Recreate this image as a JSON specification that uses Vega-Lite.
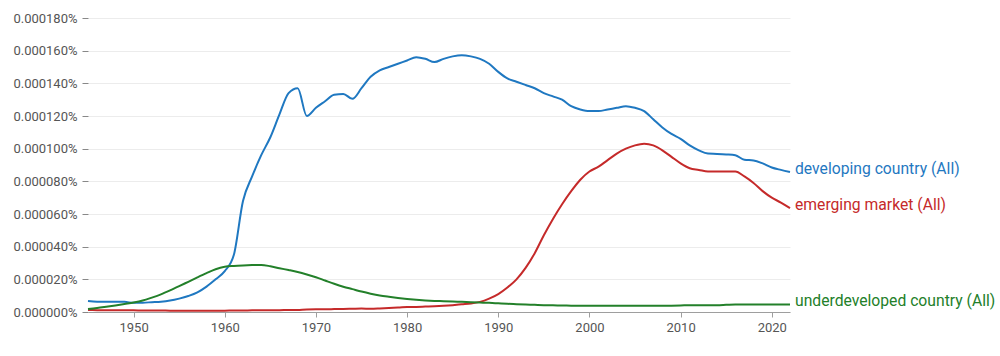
{
  "$schema": "https://vega.github.io/schema/vega-lite/v6.json",
  "autosize": "none",
  "width": 702,
  "height": 294,
  "padding": {"left": 88, "top": 18, "right": 210, "bottom": 44},
  "background": "white",
  "config": {"view": {"stroke": null}, "font": "Roboto"},
  "data": {"values": [
    {"year":1945,"d":0.0000068,"e":0.0000012,"u":0.0000018},
    {"year":1946,"d":0.0000063,"e":0.0000011,"u":0.0000025},
    {"year":1947,"d":0.0000062,"e":0.0000010,"u":0.0000032},
    {"year":1948,"d":0.0000062,"e":0.0000010,"u":0.0000040},
    {"year":1949,"d":0.0000062,"e":0.0000010,"u":0.0000049},
    {"year":1950,"d":0.0000056,"e":0.0000010,"u":0.0000058},
    {"year":1951,"d":0.0000057,"e":0.0000009,"u":0.0000070},
    {"year":1952,"d":0.0000060,"e":0.0000009,"u":0.0000088},
    {"year":1953,"d":0.0000063,"e":0.0000009,"u":0.0000108},
    {"year":1954,"d":0.0000070,"e":0.0000008,"u":0.0000132},
    {"year":1955,"d":0.0000082,"e":0.0000008,"u":0.0000158},
    {"year":1956,"d":0.0000098,"e":0.0000008,"u":0.0000185},
    {"year":1957,"d":0.0000120,"e":0.0000008,"u":0.0000212},
    {"year":1958,"d":0.0000155,"e":0.0000008,"u":0.0000238},
    {"year":1959,"d":0.0000200,"e":0.0000008,"u":0.0000262},
    {"year":1960,"d":0.0000250,"e":0.0000008,"u":0.0000277},
    {"year":1961,"d":0.0000350,"e":0.0000009,"u":0.0000282},
    {"year":1962,"d":0.0000680,"e":0.0000009,"u":0.0000285},
    {"year":1963,"d":0.0000830,"e":0.0000010,"u":0.0000287},
    {"year":1964,"d":0.0000960,"e":0.0000010,"u":0.0000288},
    {"year":1965,"d":0.0001070,"e":0.0000010,"u":0.0000280},
    {"year":1966,"d":0.0001210,"e":0.0000011,"u":0.0000268},
    {"year":1967,"d":0.0001340,"e":0.0000012,"u":0.0000257},
    {"year":1968,"d":0.0001370,"e":0.0000013,"u":0.0000245},
    {"year":1969,"d":0.0001200,"e":0.0000016,"u":0.0000230},
    {"year":1970,"d":0.0001250,"e":0.0000017,"u":0.0000213},
    {"year":1971,"d":0.0001290,"e":0.0000017,"u":0.0000193},
    {"year":1972,"d":0.0001330,"e":0.0000018,"u":0.0000173},
    {"year":1973,"d":0.0001335,"e":0.0000019,"u":0.0000155},
    {"year":1974,"d":0.0001305,"e":0.0000020,"u":0.0000140},
    {"year":1975,"d":0.0001370,"e":0.0000021,"u":0.0000125},
    {"year":1976,"d":0.0001440,"e":0.0000020,"u":0.0000112},
    {"year":1977,"d":0.0001480,"e":0.0000022,"u":0.0000101},
    {"year":1978,"d":0.0001500,"e":0.0000025,"u":0.0000093},
    {"year":1979,"d":0.0001520,"e":0.0000027,"u":0.0000086},
    {"year":1980,"d":0.0001540,"e":0.0000030,"u":0.0000080},
    {"year":1981,"d":0.0001560,"e":0.0000031,"u":0.0000075},
    {"year":1982,"d":0.0001550,"e":0.0000033,"u":0.0000071},
    {"year":1983,"d":0.0001530,"e":0.0000035,"u":0.0000068},
    {"year":1984,"d":0.0001550,"e":0.0000038,"u":0.0000066},
    {"year":1985,"d":0.0001565,"e":0.0000042,"u":0.0000064},
    {"year":1986,"d":0.0001572,"e":0.0000047,"u":0.0000062},
    {"year":1987,"d":0.0001565,"e":0.0000052,"u":0.0000060},
    {"year":1988,"d":0.0001550,"e":0.0000062,"u":0.0000058},
    {"year":1989,"d":0.0001520,"e":0.0000082,"u":0.0000056},
    {"year":1990,"d":0.0001470,"e":0.0000110,"u":0.0000053},
    {"year":1991,"d":0.0001430,"e":0.0000150,"u":0.0000050},
    {"year":1992,"d":0.0001410,"e":0.0000200,"u":0.0000048},
    {"year":1993,"d":0.0001390,"e":0.0000270,"u":0.0000046},
    {"year":1994,"d":0.0001370,"e":0.0000360,"u":0.0000044},
    {"year":1995,"d":0.0001340,"e":0.0000470,"u":0.0000042},
    {"year":1996,"d":0.0001320,"e":0.0000570,"u":0.0000041},
    {"year":1997,"d":0.0001300,"e":0.0000660,"u":0.0000040},
    {"year":1998,"d":0.0001260,"e":0.0000740,"u":0.0000039},
    {"year":1999,"d":0.0001240,"e":0.0000810,"u":0.0000038},
    {"year":2000,"d":0.0001230,"e":0.0000860,"u":0.0000038},
    {"year":2001,"d":0.0001230,"e":0.0000890,"u":0.0000038},
    {"year":2002,"d":0.0001240,"e":0.0000930,"u":0.0000038},
    {"year":2003,"d":0.0001250,"e":0.0000970,"u":0.0000038},
    {"year":2004,"d":0.0001260,"e":0.0001000,"u":0.0000038},
    {"year":2005,"d":0.0001250,"e":0.0001020,"u":0.0000038},
    {"year":2006,"d":0.0001230,"e":0.0001030,"u":0.0000038},
    {"year":2007,"d":0.0001180,"e":0.0001020,"u":0.0000038},
    {"year":2008,"d":0.0001130,"e":0.0000990,"u":0.0000038},
    {"year":2009,"d":0.0001090,"e":0.0000950,"u":0.0000039},
    {"year":2010,"d":0.0001060,"e":0.0000910,"u":0.0000040},
    {"year":2011,"d":0.0001020,"e":0.0000880,"u":0.0000042},
    {"year":2012,"d":0.0000990,"e":0.0000870,"u":0.0000042},
    {"year":2013,"d":0.0000970,"e":0.0000860,"u":0.0000042},
    {"year":2014,"d":0.0000968,"e":0.0000860,"u":0.0000042},
    {"year":2015,"d":0.0000965,"e":0.0000860,"u":0.0000044},
    {"year":2016,"d":0.0000960,"e":0.0000860,"u":0.0000046},
    {"year":2017,"d":0.0000932,"e":0.0000830,"u":0.0000046},
    {"year":2018,"d":0.0000928,"e":0.0000790,"u":0.0000046},
    {"year":2019,"d":0.0000910,"e":0.0000740,"u":0.0000046},
    {"year":2020,"d":0.0000885,"e":0.0000700,"u":0.0000046},
    {"year":2021,"d":0.0000870,"e":0.0000670,"u":0.0000046},
    {"year":2022,"d":0.0000857,"e":0.0000636,"u":0.0000046}
  ]},
  "transform": [
    {"fold": ["d", "e", "u"], "as": ["key", "value"]},
    {"lookup": "key", "from": {"data": {"values": [
      {"key": "d", "name": "developing country (All)"},
      {"key": "e", "name": "emerging market (All)"},
      {"key": "u", "name": "underdeveloped country (All)"}
    ]}, "key": "key", "fields": ["name"]}}
  ],
  "encoding": {
    "x": {"field": "year", "type": "quantitative",
      "scale": {"domain": [1945, 2022], "nice": false, "zero": false},
      "axis": {"title": null, "values": [1950,1960,1970,1980,1990,2000,2010,2020], "format": "d",
        "grid": false, "domainColor": "#9e9e9e", "tickColor": "#9e9e9e", "tickSize": 5,
        "labelFontSize": 13, "labelColor": "#555555", "labelPadding": 4}},
    "y": {"field": "value", "type": "quantitative",
      "scale": {"domain": [0, 0.00018], "nice": false},
      "axis": {"title": null, "values": [0,0.00002,0.00004,0.00006,0.00008,0.0001,0.00012,0.00014,0.00016,0.00018],
        "labelExpr": "format(datum.value, '.6f') + '%'",
        "domain": false, "grid": true, "gridColor": "#ececec", "tickColor": "#888888", "tickSize": 6,
        "labelPadding": 5, "labelFontSize": 13, "labelColor": "#555555"}},
    "color": {"field": "name", "type": "nominal", "legend": null,
      "scale": {"domain": ["developing country (All)", "emerging market (All)", "underdeveloped country (All)"],
        "range": ["#1f78c1", "#c52a2a", "#23802a"]}}
  },
  "layer": [
    {"mark": {"type": "line", "strokeWidth": 2, "interpolate": "monotone"}},
    {"transform": [{"filter": "datum.year == 2022"}],
     "mark": {"type": "text", "align": "left", "baseline": "middle", "dx": 5, "dy": -3, "fontSize": 15.7},
     "encoding": {"text": {"field": "name"}}}
  ]
}
